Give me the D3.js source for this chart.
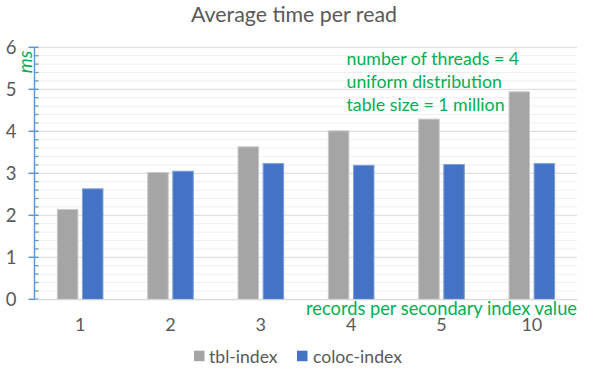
<!DOCTYPE html>
<html>
<head>
<meta charset="utf-8">
<script src="https://cdn.jsdelivr.net/npm/d3@7"></script>
<style>
  html, body { margin: 0; padding: 0; background: #fff; }
  svg { display: block; font-family: Lato, "Open Sans", sans-serif; }
</style>
</head>
<body>
<svg id="chart" width="599" height="369"></svg>
<script>
// Average read time (ms) by records per secondary index value
const categories = ["1", "2", "3", "4", "5", "10"];
const seriesNames = ["tbl-index", "coloc-index"];
const tblIndex = [2.14, 3.02, 3.63, 4.01, 4.29, 4.94];
const colocIndex = [2.63, 3.05, 3.23, 3.19, 3.21, 3.23];
const yTicks = [0, 1, 2, 3, 4, 5, 6];
const notes = ["number of threads = 4", "uniform distribution", "table size = 1 million"];

const colors = { "tbl-index": "#a5a5a5", "coloc-index": "#4472c4" };
const strokes = { "tbl-index": "#c8c8c8", "coloc-index": "#7f9fd8" };
const green = "#00b050";
const textGray = "#595959";

const svg = d3.select("#chart");
const plotLeft = 35, plotRight = 577, plotTop = 47.3, plotBottom = 299.3;

// scale a text's font size so that its rendered width equals `target`
function fitWidth(sel, target) {
  const node = sel.node();
  const size = parseFloat(sel.attr("font-size"));
  const w = node.getComputedTextLength();
  const s = size * target / w;
  sel.attr("font-size", s);
  return s;
}

const x = d3.scaleBand().domain(categories).range([plotLeft, plotRight]);
const y = d3.scaleLinear().domain([0, 6]).range([plotBottom, plotTop]);

// minor gridlines every 0.2
const minor = d3.range(0, 6.0001, 0.2).filter(v => Math.abs(v - Math.round(v)) > 1e-6);
svg.append("g").selectAll("line").data(minor).join("line")
  .attr("x1", plotLeft).attr("x2", plotRight)
  .attr("y1", d => y(d)).attr("y2", d => y(d))
  .attr("stroke", "#efefef").attr("stroke-width", 1);

// major gridlines
svg.append("g").selectAll("line").data(yTicks).join("line")
  .attr("x1", plotLeft).attr("x2", plotRight)
  .attr("y1", d => y(d)).attr("y2", d => y(d))
  .attr("stroke", "#d9d9d9").attr("stroke-width", 1);

// bars
const barW = 20.5, gap = 2.3;
const rows = categories.map((c, i) => ({ c, vals: [tblIndex[i], colocIndex[i]] }));
const groups = svg.append("g").selectAll("g").data(rows).join("g");
groups.selectAll("rect").data(d => d.vals.map((v, j) => ({ c: d.c, v, s: seriesNames[j], j })))
  .join("rect")
  .attr("x", d => x(d.c) + x.bandwidth() / 2 + (d.j === 0 ? -gap - barW : gap))
  .attr("width", barW)
  .attr("y", d => y(d.v))
  .attr("height", d => y(0) - y(d.v))
  .attr("fill", d => colors[d.s])
  .attr("stroke", d => strokes[d.s])
  .attr("stroke-width", 1);

// y axis in blue with major and minor ticks
const axisBlue = "#5b9bd5";
svg.append("line").attr("x1", plotLeft - 0.5).attr("x2", plotLeft - 0.5)
  .attr("y1", y(6)).attr("y2", y(0)).attr("stroke", axisBlue).attr("stroke-width", 1.5);
svg.append("g").selectAll("line").data(yTicks).join("line")
  .attr("x1", plotLeft - 6.5).attr("x2", plotLeft + 3.5)
  .attr("y1", d => y(d)).attr("y2", d => y(d))
  .attr("stroke", axisBlue).attr("stroke-width", 1.5);
svg.append("g").selectAll("line").data(minor).join("line")
  .attr("x1", plotLeft).attr("x2", plotLeft + 3.5)
  .attr("y1", d => y(d)).attr("y2", d => y(d))
  .attr("stroke", axisBlue).attr("stroke-width", 1.3);

// y tick labels
svg.append("g").selectAll("text").data(yTicks).join("text")
  .attr("x", 11).attr("y", d => y(d))
  .attr("dy", "0.35em").attr("text-anchor", "middle")
  .attr("font-size", 18.5).attr("fill", textGray)
  .text(d => d);

// x axis via d3 axis, styled minimal
const xAxis = svg.append("g").attr("transform", `translate(0,${plotBottom})`)
  .call(d3.axisBottom(x).tickSize(0).tickPadding(19));
xAxis.select(".domain").attr("stroke", "#d9d9d9");
xAxis.selectAll("text").attr("font-size", 18).attr("fill", textGray)
  .attr("font-family", "Lato, sans-serif");

// x axis title
const xTitle = svg.append("text").attr("x", plotRight).attr("y", 309)
  .attr("dy", "0.35em").attr("text-anchor", "end")
  .attr("font-size", 16.5).attr("fill", green)
  .text("records per secondary index value");
fitWidth(xTitle, 271);

// unit label
svg.append("text").attr("transform", "translate(25,62) rotate(-90)")
  .attr("dy", "0.35em").attr("text-anchor", "middle")
  .attr("font-size", 19).attr("font-style", "italic").attr("fill", green)
  .text("ms");

// chart title
const title = svg.append("text").attr("x", 294).attr("y", 15)
  .attr("dy", "0.35em").attr("text-anchor", "middle")
  .attr("font-size", 19).attr("fill", textGray)
  .text("Average time per read");
fitWidth(title, 206);

// annotation lines
const noteText = svg.append("g").selectAll("text").data(notes).join("text")
  .attr("x", 346.5).attr("y", (d, i) => 58.3 + i * 23.4)
  .attr("dy", "0.35em").attr("font-size", 16.5).attr("fill", green)
  .text(d => d);
const noteSize = fitWidth(d3.select(noteText.nodes()[0]), 172.6);
noteText.attr("font-size", noteSize);

// legend
const legend = svg.append("g");
const legendItems = [
  { name: seriesNames[0], sx: 194, tx: 209 },
  { name: seriesNames[1], sx: 297, tx: 313 }
];
legend.selectAll("rect").data(legendItems).join("rect")
  .attr("x", d => d.sx).attr("y", 350.7).attr("width", 10.5).attr("height", 10.5)
  .attr("fill", d => colors[d.name]);
const legendText = legend.selectAll("text").data(legendItems).join("text")
  .attr("x", d => d.tx).attr("y", 356.5).attr("dy", "0.35em")
  .attr("font-size", 15.5).attr("fill", textGray)
  .text(d => d.name);
const legendSize = fitWidth(d3.select(legendText.nodes()[0]), 68.7);
legendText.attr("font-size", legendSize);
</script>
</body>
</html>
